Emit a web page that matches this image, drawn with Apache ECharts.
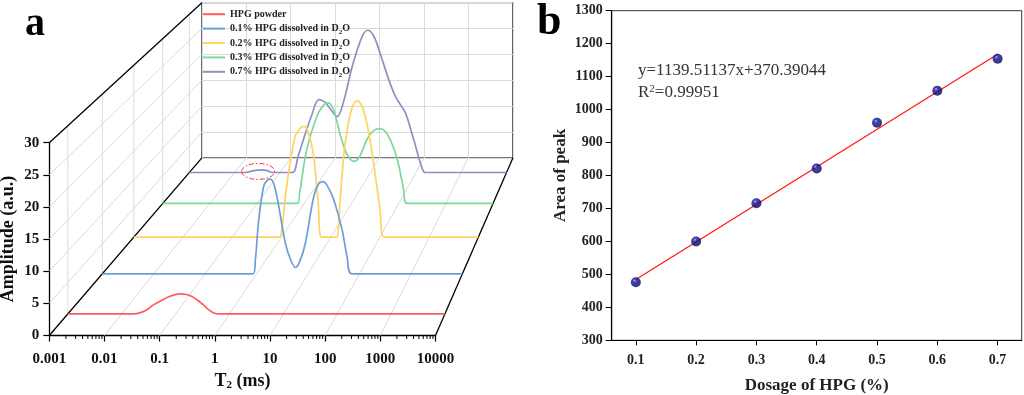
<!DOCTYPE html>
<html><head><meta charset="utf-8">
<script src="https://cdn.jsdelivr.net/npm/echarts@6/dist/echarts.min.js"></script>
<style>html,body{margin:0;padding:0;background:#fff}#c{width:1024px;height:395px}</style>
</head><body><div id="c"></div>
<script>
// ================= DATA =================
// Panel a: T2 distributions (waterfall)
const seriesNames = ['HPG powder', '0.1% HPG dissolved in D2O', '0.2% HPG dissolved in D2O', '0.3% HPG dissolved in D2O', '0.7% HPG dissolved in D2O'];
const seriesColors = ['#ff5c5c', '#6d9fd6', '#ffd45e', '#7dd89a', '#8f8fc2'];

const powderT2  = [0.001, 0.014, 0.02, 0.028, 0.039, 0.055, 0.071, 0.095, 0.123, 0.16, 0.206, 0.26, 0.33, 0.41, 0.5, 0.58, 0.65, 10000];
const powderAmp = [0, 0, 0.1, 0.55, 1.45, 2.15, 2.65, 3.05, 3.2, 3.1, 2.75, 2.15, 1.45, 0.7, 0.2, 0.03, 0, 0];

const hpg01T2  = [0.001, 0.86, 0.946, 1.1, 1.37, 1.6, 1.85, 2.2, 2.69, 3.62, 4.6, 5.7, 7.0, 8.87, 12.9, 16, 19.6, 24, 31.5, 45.8, 57.3, 72, 10000];
const hpg01Amp = [0, 0, 2.3, 9.0, 14.6, 15.6, 15.8, 14.8, 11.3, 5.1, 2.3, 1.05, 2.2, 5.1, 12.9, 15.0, 15.4, 14.6, 12.4, 7.4, 2.9, 0, 0];

const hpg02T2  = [0.001, 0.9, 1.0, 1.27, 1.88, 2.4, 2.86, 3.4, 4.42, 5.59, 6.5, 13.2, 14.5, 15.4, 18.6, 21.1, 27, 34.7, 45, 62.8, 100, 122, 10000];
const hpg02Amp = [0, 0, 1.0, 8.8, 17.5, 19.0, 19.3, 18.6, 14.6, 5.9, 0, 0, 2.0, 5.9, 14.6, 18.1, 22.5, 23.8, 22.5, 17.0, 5.0, 0, 0];

const hpg03T2  = [0.001, 0.72, 0.8, 1.12, 1.82, 2.5, 3.2, 4.2, 5.69, 8.0, 11.4, 15, 20.9, 30, 41.4, 60, 90.5, 125, 152, 10000];
const hpg03Amp = [0, 0, 2.0, 9.7, 15.7, 17.8, 18.3, 17.0, 12.7, 9.0, 7.66, 8.6, 11.5, 13.3, 13.6, 12.3, 8.45, 3.0, 0, 0];

const hpg07T2  = [0.001, 0.0165, 0.025, 0.033, 0.041, 0.052, 0.068, 0.187, 0.25, 0.367, 0.5, 0.72, 1.0, 1.35, 1.83, 2.6, 3.93, 6.53, 8.7, 11.5, 15.2, 25.2, 35.4, 45, 58.9, 89.7, 137, 162, 10000];
const hpg07Amp = [0, 0, 0.3, 0.45, 0.5, 0.35, 0, 0, 3.0, 7.5, 10.8, 13.8, 13.3, 11.8, 10.6, 13.8, 20.1, 25.8, 26.95, 26.0, 23.3, 17.6, 14.4, 12.9, 11.3, 6.2, 0.8, 0, 0];

const xTickValues = [0.001, 0.01, 0.1, 1, 10, 100, 1000, 10000];
const xTickLabels = ['0.001', '0.01', '0.1', '1', '10', '100', '1000', '10000'];
const minorMultipliers = [2, 3, 4, 5, 6, 7, 8, 9];
const ampTicks = [0, 5, 10, 15, 20, 25, 30];

// Panel b: area of peak vs dosage
const dosage = [0.1, 0.2, 0.3, 0.4, 0.5, 0.6, 0.7];
const peakArea = [476, 600, 716, 821, 960, 1057, 1154];
const fitX = [0.1, 0.7];
const fitY = [484.3, 1168.0];
const dosageTicks = [0.1, 0.2, 0.3, 0.4, 0.5, 0.6, 0.7];
const equationText = 'y=1139.51137x+370.39044';
const r2Text = '=0.99951';

// ================= LAYOUT =================
const SERIF = '"Liberation Serif", "Times New Roman", serif';
const FRONT = {left: 49.3, top: 142.7, width: 386.2, height: 192.8};
const VP = [832.5, -576];          // vanishing point
const DEPTH_K = 0.242;
const seriesDepth = [0.1, 0.3, 0.5, 0.7, 0.9];
const GRID_GRAY = '#dadada';
function scaleAt(d) { return 1 / (1 + DEPTH_K * d); }
function gridAt(s) {
  return {left: VP[0] + s * (FRONT.left - VP[0]), top: VP[1] + s * (FRONT.top - VP[1]),
          width: s * FRONT.width, height: s * FRONT.height, outerBoundsMode: 'none'};
}
function persp(p, s) { return [VP[0] + s * (p[0] - VP[0]), VP[1] + s * (p[1] - VP[1])]; }

const seriesT2 = [powderT2, hpg01T2, hpg02T2, hpg03T2, hpg07T2];
const seriesAmp = [powderAmp, hpg01Amp, hpg02Amp, hpg03Amp, hpg07Amp];

const grids = [];
grids.push(Object.assign({outerBoundsMode: 'none'}, FRONT));                     // 0 front
grids.push(Object.assign({show: true, borderColor: '#4a4a4a', borderWidth: 1.4,
  backgroundColor: 'transparent'}, gridAt(scaleAt(1))));                           // 1 back wall
seriesDepth.forEach(d => grids.push(gridAt(scaleAt(d))));                          // 2..6
grids.push({left: 611.7, top: 10.7, width: 410, height: 329.6, show: true,
  borderColor: '#333', borderWidth: 1, outerBoundsMode: 'none'});                  // 7

const lbl = (size, extra) => Object.assign({fontFamily: SERIF, fontWeight: 'bold', fontSize: size, color: '#111'}, extra || {});

const xAxes = [], yAxes = [];
// front
xAxes.push({gridIndex: 0, type: 'log', logBase: 10, min: 0.001, max: 10000, splitNumber: 7,
  axisLine: {lineStyle: {color: '#000', width: 1.3}}, axisTick: {length: 6, lineStyle: {color: '#000', width: 1.2}},
  splitLine: {show: false}, minorTick: {show: false},
  axisLabel: Object.assign(lbl(15), {margin: 16, formatter: v => xTickLabels[Math.round(Math.log10(v)) + 3]}),
  name: 'T{sub|2} (ms)', nameLocation: 'middle', nameGap: 37,
  nameTextStyle: lbl(18, {rich: {sub: lbl(11, {verticalAlign: 'bottom'})}})});
yAxes.push({gridIndex: 0, type: 'value', min: 0, max: 30, interval: 5,
  axisLine: {show: true, lineStyle: {color: '#000', width: 1.3}}, axisTick: {show: true, length: 6, lineStyle: {color: '#000', width: 1.2}},
  splitLine: {show: false}, axisLabel: Object.assign(lbl(15), {margin: 10}),
  name: 'Amplitude (a.u.)', nameLocation: 'middle', nameGap: 32, nameRotate: 90, nameTextStyle: lbl(18)});
// back wall
xAxes.push({gridIndex: 1, type: 'log', logBase: 10, min: 0.001, max: 10000, splitNumber: 7,
  axisLine: {show: false}, axisTick: {show: false}, axisLabel: {show: false},
  splitLine: {show: true, lineStyle: {color: GRID_GRAY, width: 1}}});
yAxes.push({gridIndex: 1, type: 'value', min: 0, max: 30, interval: 5,
  axisLine: {show: false}, axisTick: {show: false}, axisLabel: {show: false},
  splitLine: {show: true, lineStyle: {color: GRID_GRAY, width: 1}}});
// series grids
seriesDepth.forEach((d, i) => {
  xAxes.push({gridIndex: 2 + i, type: 'log', logBase: 10, min: 0.001, max: 10000, show: false});
  yAxes.push({gridIndex: 2 + i, type: 'value', min: 0, max: 30, show: false});
});
// panel b
xAxes.push({gridIndex: 7, type: 'value', min: 0.06, max: 0.74,
  axisLine: {lineStyle: {color: '#000', width: 1.2}},
  axisTick: {customValues: dosageTicks, length: 5, lineStyle: {color: '#000'}},
  axisLabel: Object.assign(lbl(14, {color: '#222'}), {customValues: dosageTicks, margin: 13, formatter: v => v.toFixed(1)}),
  splitLine: {show: false},
  name: 'Dosage of HPG (%)', nameLocation: 'middle', nameGap: 37, nameTextStyle: lbl(17, {color: '#222'})});
yAxes.push({gridIndex: 7, type: 'value', min: 300, max: 1300, interval: 100,
  axisLine: {show: true, lineStyle: {color: '#000', width: 1.2}},
  axisTick: {show: true, length: 6, lineStyle: {color: '#000'}},
  axisLabel: Object.assign(lbl(14, {color: '#222'}), {margin: 9, formatter: v => String(v)}),
  splitLine: {show: false},
  name: 'Area of peak', nameLocation: 'middle', nameGap: 43, nameRotate: 90, nameTextStyle: lbl(17, {color: '#222'})});

// frame (3D box) drawn through the front axes' scales
function frameRender(params, api) {
  const sB = scaleAt(1);
  const P = (t, a, s) => persp(api.coord([t, a]), s);
  const children = [];
  const line = (p, q, stroke, w) => children.push({type: 'line', silent: true,
    shape: {x1: p[0], y1: p[1], x2: q[0], y2: q[1]}, style: {stroke: stroke, lineWidth: w}});
  xTickValues.slice(1, -1).forEach(t => line(P(t, 0, 1), P(t, 0, sB), GRID_GRAY, 1));
  ampTicks.slice(1, -1).forEach(a => line(P(0.001, a, 1), P(0.001, a, sB), GRID_GRAY, 1));
  seriesDepth.forEach(d => { const s = scaleAt(d); line(P(0.001, 0, s), P(0.001, 30, s), GRID_GRAY, 1); });
  line(P(0.001, 0, 1), P(0.001, 0, sB), '#000', 1.3);
  line(P(0.001, 30, 1), P(0.001, 30, sB), '#000', 1.3);
  line(P(10000, 0, 1), P(10000, 0, sB), '#000', 1.3);
  xTickValues.slice(0, -1).forEach(t => minorMultipliers.forEach(m => {
    const p = api.coord([t * m, 0]); line(p, [p[0], p[1] + 3.5], '#000', 1);
  }));
  return {type: 'group', children: children};
}

const series = [];
series.push({type: 'custom', xAxisIndex: 0, yAxisIndex: 0, data: [[1, 0]], renderItem: frameRender, z: 1, silent: true, clip: false});
seriesNames.forEach((name, i) => {
  series.push({name: name, type: 'line', xAxisIndex: 2 + i, yAxisIndex: 2 + i,
    data: seriesT2[i].map((t, k) => [t, seriesAmp[i][k]]),
    showSymbol: false, symbol: 'none', smooth: 0.35, color: seriesColors[i],
    lineStyle: {color: seriesColors[i], width: 1.7}, z: 10 - i, clip: false, silent: true});
});
// red dash-dot ellipse marking the small purple hump
series.push({type: 'custom', xAxisIndex: 6, yAxisIndex: 6, data: [[0.033, 0.2]], z: 12, silent: true, clip: false,
  renderItem: (params, api) => {
    const c = api.coord([api.value(0), api.value(1)]);
    return {type: 'ellipse', shape: {cx: c[0], cy: c[1], rx: 16.5, ry: 8},
      style: {fill: 'none', stroke: '#ff3030', lineWidth: 1, lineDash: [5, 2, 1.5, 2]}};
  }});
// panel b
series.push({type: 'line', xAxisIndex: 7, yAxisIndex: 7, data: fitX.map((x, k) => [x, fitY[k]]),
  showSymbol: false, symbol: 'none', lineStyle: {color: '#ff1a1a', width: 1.3}, z: 3, silent: true});
series.push({type: 'scatter', xAxisIndex: 7, yAxisIndex: 7, data: dosage.map((x, k) => [x, peakArea[k]]),
  symbol: 'circle', symbolSize: 10, z: 5, silent: true,
  itemStyle: {color: {type: 'radial', x: 0.38, y: 0.33, r: 0.7, colorStops: [
    {offset: 0, color: '#aab0ff'}, {offset: 0.22, color: '#1515a5'}, {offset: 1, color: '#00004a'}]}}});

const chart = echarts.init(document.getElementById('c'), null, {renderer: 'canvas'});
chart.setOption({
  animation: false,
  backgroundColor: '#fff',
  grid: grids, xAxis: xAxes, yAxis: yAxes, series: series,
  legend: {data: seriesNames, orient: 'vertical', left: 203, top: 7, padding: 0, itemWidth: 22, itemHeight: 2, itemGap: 0,
    icon: 'rect', selectedMode: false,
    textStyle: {fontFamily: SERIF, fontWeight: 'bold', fontSize: 10, color: '#222', lineHeight: 14.4,
      rich: {sub: {fontFamily: SERIF, fontWeight: 'bold', fontSize: 7, color: '#222', verticalAlign: 'bottom'}}},
    formatter: n => n.replace('D2O', 'D{sub|2}O')},
  graphic: [
    {type: 'text', left: 25, top: 5, style: {text: 'a', font: 'bold 40px ' + SERIF, fill: '#000'}},
    {type: 'text', left: 537, top: 1, style: {text: 'b', font: 'bold 44px ' + SERIF, fill: '#000'}},
    {type: 'text', left: 638, top: 62, style: {text: equationText, font: '17px ' + SERIF, fill: '#333'}},
    {type: 'text', left: 638, top: 84, style: {text: 'R{sup|2}' + r2Text, font: '17px ' + SERIF, fill: '#333',
      rich: {sup: {fontSize: 11, fontFamily: SERIF, fill: '#333', verticalAlign: 'top'}}}}
  ]
});
</script>
</body></html>
